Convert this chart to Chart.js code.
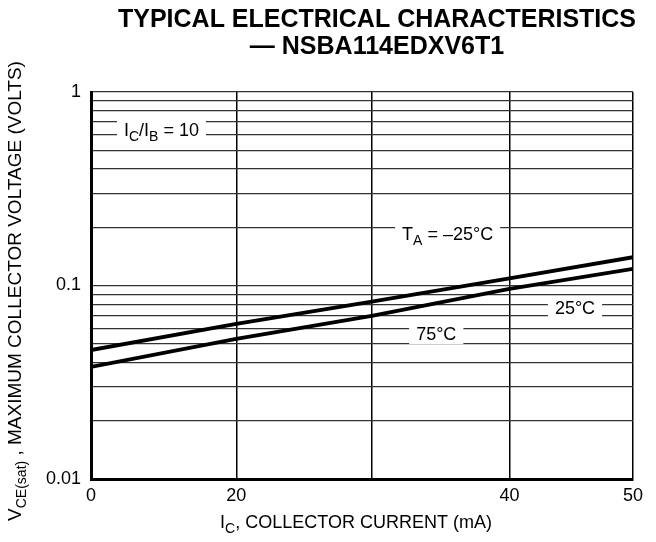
<!DOCTYPE html>
<html lang="en">
<head>
<meta charset="UTF-8">
<title>VCE(sat) versus IC — NSBA114EDXV6T1</title>
<script src="https://cdn.jsdelivr.net/npm/chart.js"></script>
<style>
  html, body { margin: 0; padding: 0; background: #fff; }
</style>
</head>
<body>
<canvas id="chart" width="656" height="542"></canvas>
<script>
// values
const xGrid = [0, 13.4, 25.9, 38.6, 50];          // grid columns (the printed axis is not evenly spaced)
const xTickText = ['0', '20', '', '40', '50'];
const vceUpper = [0.0464, 0.0634, 0.0825, 0.109, 0.140];
const vceLower = [0.038, 0.053, 0.0697, 0.096, 0.122];
const yGrid = [0.01, 0.02, 0.03, 0.04, 0.05, 0.06, 0.07, 0.08, 0.09,
               0.1, 0.2, 0.3, 0.4, 0.5, 0.6, 0.7, 0.8, 0.9, 1];
const yTickText = { '1': '1', '0.1': '0.1', '0.01': '0.01' };

const FONT = "'Liberation Sans', Arial, Helvetica, sans-serif";

// text placed on the plot, in data units
const notes = [
  { x: 6.5,   y: 0.638,  runs: [['I'], ['C', 1], ['/I'], ['B', 1], [' = 10']] },
  { x: 32.9,  y: 0.185,  runs: [['T'], ['A', 1], [' = \u201325\u00b0C']] },
  { x: 44.65, y: 0.0769, runs: [['25\u00b0C']] },
  { x: 31.85, y: 0.0568, runs: [['75\u00b0C']] }
];

// draws a row of text pieces, some as subscripts
function runsWidth(ctx, runs, size) {
  let w = 0;
  runs.forEach(r => {
    ctx.font = (r[1] ? Math.round(size * 0.75) : size) + 'px ' + FONT;
    w += ctx.measureText(r[0]).width;
  });
  return w;
}
function drawRuns(ctx, runs, x, y, size) {
  let cx = x;
  runs.forEach(r => {
    ctx.font = (r[1] ? Math.round(size * 0.75) : size) + 'px ' + FONT;
    ctx.fillText(r[0], cx, r[1] ? y + size * 0.28 : y);
    cx += ctx.measureText(r[0]).width;
  });
}

const textPlugin = {
  id: 'texts',
  beforeDatasetsDraw(chart) {
    const ctx = chart.ctx;
    const xs = chart.scales.x, ys = chart.scales.y;
    ctx.save();
    ctx.fillStyle = '#000';
    ctx.textBaseline = 'alphabetic';
    ctx.textAlign = 'left';
    notes.forEach(n => {
      const px = xs.getPixelForValue(n.x);
      const py = ys.getPixelForValue(n.y);
      const w = runsWidth(ctx, n.runs, 18);
      ctx.fillStyle = '#fff';
      ctx.fillRect(px - w / 2 - 7, py - 11, w + 14, 22);
      ctx.fillStyle = '#000';
      drawRuns(ctx, n.runs, px - w / 2, py + 6.5, 18);
    });
    ctx.restore();
  },
  afterDraw(chart) {
    const ctx = chart.ctx;
    ctx.save();
    ctx.fillStyle = '#000';
    ctx.textBaseline = 'alphabetic';
    ctx.textAlign = 'center';
    ctx.font = 'bold 25px ' + FONT;
    ctx.fillText('TYPICAL ELECTRICAL CHARACTERISTICS', 377, 27);
    ctx.fillText('\u2014 NSBA114EDXV6T1', 377, 54);

    ctx.textAlign = 'left';
    // x axis title
    const xt = [['I'], ['C', 1], [', COLLECTOR CURRENT (mA)']];
    const wx = runsWidth(ctx, xt, 18);
    drawRuns(ctx, xt, 356 - wx / 2, 528, 18);
    // y axis title
    const yt = [['V'], ['CE(sat)', 1], [' , MAXIMUM COLLECTOR VOLTAGE (VOLTS)']];
    const wy = runsWidth(ctx, yt, 19);
    ctx.translate(21, 291);
    ctx.rotate(-Math.PI / 2);
    drawRuns(ctx, yt, -wy / 2, 0, 19);
    ctx.restore();
  }
};

const ctx = document.getElementById('chart').getContext('2d');
const chart = new Chart(ctx, {
  type: 'line',
  data: {
    datasets: [
      { label: 'upper', data: xGrid.map((x, i) => ({ x: x, y: vceUpper[i] })) },
      { label: 'lower', data: xGrid.map((x, i) => ({ x: x, y: vceLower[i] })) }
    ]
  },
  options: {
    responsive: false,
    animation: false,
    layout: { padding: { top: 92, right: 23, left: 0, bottom: 0 } },
    elements: {
      line: { borderColor: '#000', borderWidth: 3.8, tension: 0 },
      point: { radius: 0 }
    },
    plugins: {
      legend: { display: false },
      tooltip: { enabled: false }
    },
    scales: {
      x: {
        type: 'linear',
        min: 0,
        max: 50,
        afterBuildTicks: s => { s.ticks = xGrid.map(v => ({ value: v })); },
        afterFit: s => { s.height = 542 - 479; },
        ticks: {
          autoSkip: false,
          maxRotation: 0,
          padding: 6,
          color: '#000',
          font: { family: FONT, size: 18 },
          callback: (v, i) => xTickText[i]
        },
        grid: { color: '#000', lineWidth: 1.5, drawTicks: false },
        border: { color: '#000', width: 3 }
      },
      y: {
        type: 'logarithmic',
        min: 0.01,
        max: 1,
        afterBuildTicks: s => { s.ticks = yGrid.map(v => ({ value: v })); },
        afterFit: s => { s.width = 91; },
        ticks: {
          autoSkip: false,
          padding: 10,
          color: '#000',
          font: { family: FONT, size: 18 },
          callback: v => yTickText[String(v)] || ''
        },
        grid: { color: '#333', lineWidth: 1.3, drawTicks: false },
        border: { color: '#000', width: 3 }
      }
    }
  },
  plugins: [textPlugin]
});
</script>
</body>
</html>
